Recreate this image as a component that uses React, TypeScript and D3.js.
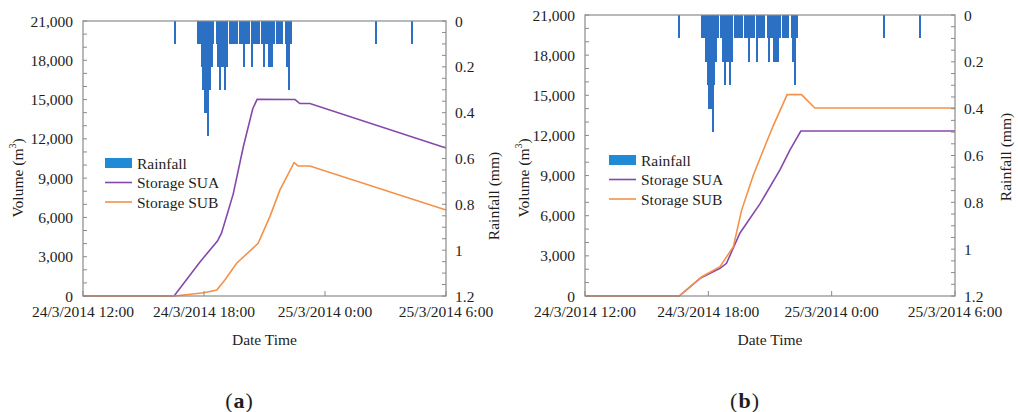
import * as d3 from 'd3';

// ---- data ----
const rainfall: [string, number][] = [
  ['24/3/2014 16:30', 0.1],
  ['24/3/2014 17:40', 0.1], ['24/3/2014 17:45', 0.1], ['24/3/2014 17:50', 0.2],
  ['24/3/2014 17:55', 0.3], ['24/3/2014 18:00', 0.4], ['24/3/2014 18:05', 0.4],
  ['24/3/2014 18:10', 0.5], ['24/3/2014 18:15', 0.3], ['24/3/2014 18:20', 0.2],
  ['24/3/2014 18:25', 0.1],
  ['24/3/2014 18:35', 0.1], ['24/3/2014 18:40', 0.2], ['24/3/2014 18:45', 0.3],
  ['24/3/2014 18:50', 0.2], ['24/3/2014 18:55', 0.2], ['24/3/2014 19:00', 0.3],
  ['24/3/2014 19:05', 0.2],
  ['24/3/2014 19:15', 0.1], ['24/3/2014 19:20', 0.1], ['24/3/2014 19:25', 0.1],
  ['24/3/2014 19:30', 0.1], ['24/3/2014 19:35', 0.1],
  ['24/3/2014 19:45', 0.1], ['24/3/2014 19:50', 0.1], ['24/3/2014 19:55', 0.2],
  ['24/3/2014 20:00', 0.1], ['24/3/2014 20:05', 0.1], ['24/3/2014 20:10', 0.1],
  ['24/3/2014 20:20', 0.2], ['24/3/2014 20:25', 0.1], ['24/3/2014 20:30', 0.1],
  ['24/3/2014 20:35', 0.1], ['24/3/2014 20:40', 0.1],
  ['24/3/2014 20:50', 0.1], ['24/3/2014 20:55', 0.2], ['24/3/2014 21:00', 0.1],
  ['24/3/2014 21:05', 0.1], ['24/3/2014 21:10', 0.2], ['24/3/2014 21:15', 0.2],
  ['24/3/2014 21:20', 0.2], ['24/3/2014 21:25', 0.1],
  ['24/3/2014 21:35', 0.1], ['24/3/2014 21:40', 0.1], ['24/3/2014 21:45', 0.1],
  ['24/3/2014 21:50', 0.1],
  ['24/3/2014 22:00', 0.1], ['24/3/2014 22:05', 0.2], ['24/3/2014 22:10', 0.3],
  ['24/3/2014 22:15', 0.1],
  ['25/3/2014 02:30', 0.1], ['25/3/2014 04:15', 0.1],
];

const storageSuaA: [string, number][] = [
  ['24/3/2014 12:00', 0], ['24/3/2014 16:31', 0], ['24/3/2014 17:48', 2600],
  ['24/3/2014 18:40', 4200], ['24/3/2014 18:52', 4800], ['24/3/2014 19:05', 5900],
  ['24/3/2014 19:27', 7800], ['24/3/2014 19:57', 11400], ['24/3/2014 20:25', 14300],
  ['24/3/2014 20:38', 15020], ['24/3/2014 22:31', 15000], ['24/3/2014 22:45', 14700],
  ['24/3/2014 23:15', 14700], ['25/3/2014 06:00', 11300],
];
const storageSubA: [string, number][] = [
  ['24/3/2014 12:00', 0], ['24/3/2014 16:31', 0], ['24/3/2014 18:00', 250],
  ['24/3/2014 18:38', 460], ['24/3/2014 19:02', 1220], ['24/3/2014 19:37', 2500],
  ['24/3/2014 20:41', 4020], ['24/3/2014 21:16', 6060], ['24/3/2014 21:46', 8100],
  ['24/3/2014 22:28', 10180], ['24/3/2014 22:40', 9930], ['24/3/2014 23:15', 9930],
  ['25/3/2014 06:00', 6570],
];
const storageSuaB: [string, number][] = [
  ['24/3/2014 12:00', 0], ['24/3/2014 16:35', 0], ['24/3/2014 17:36', 1320],
  ['24/3/2014 18:34', 2070], ['24/3/2014 18:53', 2440], ['24/3/2014 19:32', 4690],
  ['24/3/2014 20:31', 6900], ['24/3/2014 21:29', 9420], ['24/3/2014 21:58', 10900],
  ['24/3/2014 22:30', 12330], ['25/3/2014 06:00', 12330],
];
const storageSubB: [string, number][] = [
  ['24/3/2014 12:00', 0], ['24/3/2014 16:35', 0], ['24/3/2014 17:41', 1440],
  ['24/3/2014 18:34', 2190], ['24/3/2014 19:13', 3690], ['24/3/2014 19:37', 6400],
  ['24/3/2014 20:11', 9000], ['24/3/2014 20:31', 10300], ['24/3/2014 21:09', 12700],
  ['24/3/2014 21:50', 15050], ['24/3/2014 22:32', 15050], ['24/3/2014 23:11', 14050],
  ['25/3/2014 06:00', 14050],
];

const xTicks = ['24/3/2014 12:00', '24/3/2014 18:00', '25/3/2014 00:00', '25/3/2014 06:00'];
const xTickLabels = ['24/3/2014 12:00', '24/3/2014 18:00', '25/3/2014 0:00', '25/3/2014 6:00'];
const volumeTicks = [0, 3000, 6000, 9000, 12000, 15000, 18000, 21000];
const rainTicks = [0, 0.2, 0.4, 0.6, 0.8, 1, 1.2];
const legendLabels = ['Rainfall', 'Storage SUA', 'Storage SUB'];

const parse = d3.timeParse('%d/%m/%Y %H:%M');
const FONT = '"Liberation Serif", "Times New Roman", serif';
const AXIS = '#8a8a8a';
const TEXT = '#1e1e1e';
const BAR = '#2c70c3';
const SWATCH = '#1f8ad6';
const PURPLE = '#8549ab';
const ORANGE = '#f4914a';
const FS = 15.5;

interface PanelProps {
  left: number; right: number; top: number; bottom: number;
  sua: [string, number][]; sub: [string, number][];
  volLabelX: number; volLabelY: number;
  rainLabelX: number; rainLabelY: number;
  legendX: number; legendY: number;
  tag: string;
}

const Panel = (p: PanelProps) => {
  const x = d3.scaleTime()
    .domain([parse(xTicks[0])!, parse(xTicks[3])!])
    .range([p.left, p.right]);
  const y = d3.scaleLinear().domain([0, 21000]).range([p.bottom, p.top]);
  const r = d3.scaleLinear().domain([0, 1.2]).range([p.top, p.bottom]);
  const line = d3.line<[string, number]>()
    .x(d => x(parse(d[0])!))
    .y(d => y(d[1]));
  const minorVol = d3.range(0, 21001, 1000);
  const minorRain = d3.range(0, 1.2001, 0.05);
  const midX = (p.left + p.right) / 2;

  return (
    <g fontFamily={FONT} fill={TEXT}>
      {/* rainfall bars hanging from the top */}
      <g shapeRendering="crispEdges">
        {rainfall.map(([t, v], i) => {
          const t0 = parse(t)!;
          const x0 = x(t0);
          const x1 = x(d3.timeMinute.offset(t0, 5));
          return <rect key={i} x={x0} y={r(0)} width={x1 - x0 + 0.3} height={r(v) - r(0)} fill={BAR} />;
        })}
      </g>

      <path d={line(p.sua)!} fill="none" stroke={PURPLE} strokeWidth={1.6} />
      <path d={line(p.sub)!} fill="none" stroke={ORANGE} strokeWidth={1.6} />

      {/* frame */}
      <rect x={p.left} y={p.top} width={p.right - p.left} height={p.bottom - p.top}
        fill="none" stroke={AXIS} strokeWidth={1.2} />

      {/* left axis ticks */}
      {minorVol.map(v => (
        <line key={v} x1={p.left} x2={p.left + 4} y1={y(v)} y2={y(v)} stroke={AXIS} />
      ))}
      {volumeTicks.map(v => (
        <text key={v} x={p.left - 10} y={y(v)} textAnchor="end" dominantBaseline="central"
          fontSize={FS}>{d3.format(',')(v)}</text>
      ))}

      {/* right axis ticks */}
      {minorRain.map(v => (
        <line key={v} x1={p.right - 4} x2={p.right} y1={r(v)} y2={r(v)} stroke={AXIS} />
      ))}
      {rainTicks.map(v => (
        <text key={v} x={p.right + 9} y={r(v)} dominantBaseline="central"
          fontSize={FS}>{String(+v.toFixed(1))}</text>
      ))}

      {/* bottom axis */}
      {xTicks.map((t, i) => (
        <g key={t}>
          <line x1={x(parse(t)!)} x2={x(parse(t)!)} y1={p.bottom} y2={p.bottom - 5} stroke={AXIS} />
          <text x={x(parse(t)!)} y={p.bottom + 21} textAnchor="middle" fontSize={FS}>
            {xTickLabels[i]}
          </text>
        </g>
      ))}

      <text x={midX} y={p.bottom + 49} textAnchor="middle" fontSize={FS}>Date Time</text>

      <text transform={`translate(${p.volLabelX},${p.volLabelY}) rotate(-90)`}
        textAnchor="middle" dominantBaseline="central" fontSize={FS}>
        Volume (m<tspan fontSize={10} dy={-5}>3</tspan><tspan dy={5}>)</tspan>
      </text>
      <text transform={`translate(${p.rainLabelX},${p.rainLabelY}) rotate(-90)`}
        textAnchor="middle" dominantBaseline="central" fontSize={FS}>Rainfall (mm)</text>

      {/* legend */}
      <g transform={`translate(${p.legendX},${p.legendY})`}>
        <rect x={0} y={-5} width={27} height={10} fill={SWATCH} />
        <line x1={0} x2={27} y1={19.5} y2={19.5} stroke={PURPLE} strokeWidth={1.6} />
        <line x1={0} x2={27} y1={39} y2={39} stroke={ORANGE} strokeWidth={1.6} />
        {legendLabels.map((l, i) => (
          <text key={l} x={32} y={i * 19.5} dominantBaseline="central" fontSize={FS}>{l}</text>
        ))}
      </g>

      <text x={midX - 25} y={400} textAnchor="middle" dominantBaseline="central" fontSize={22}
        letterSpacing={1}>
        (<tspan fontWeight="bold">{p.tag}</tspan>)
      </text>
    </g>
  );
};

export default function App() {
  return (
    <svg width={1018} height={412} style={{ position: 'absolute', left: 0, top: 0, background: '#fff' }}>
      <Panel left={83} right={446} top={21} bottom={296} sua={storageSuaA} sub={storageSubA}
        volLabelX={17} volLabelY={178} rainLabelX={493} rainLabelY={196}
        legendX={105} legendY={163} tag="a" />
      <Panel left={585} right={955} top={15} bottom={296} sua={storageSuaB} sub={storageSubB}
        volLabelX={523} volLabelY={178} rainLabelX={1005} rainLabelY={157}
        legendX={609} legendY={160} tag="b" />
    </svg>
  );
}
